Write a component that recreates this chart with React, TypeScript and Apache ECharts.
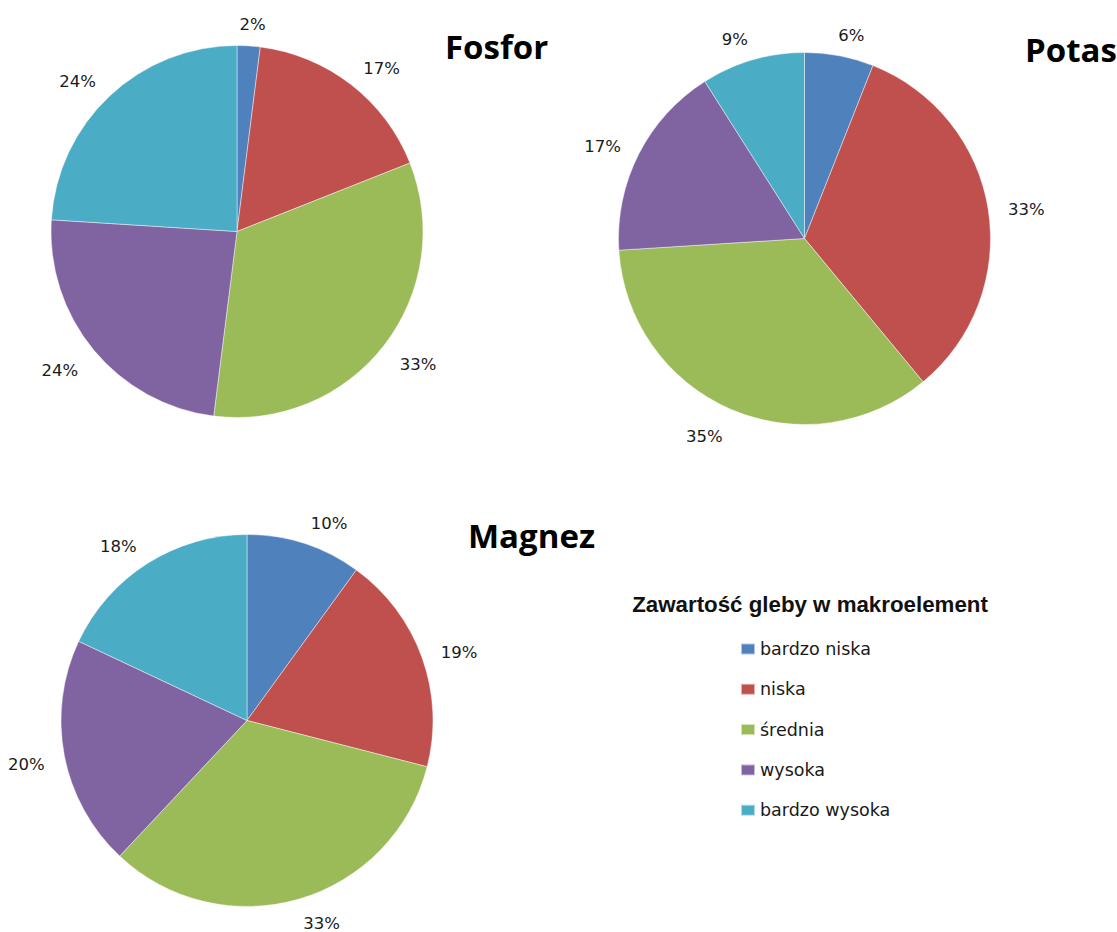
import React, { useEffect, useRef } from "react";
import * as echarts from "echarts";

// Soil macronutrient content classes
const categories = ["bardzo niska", "niska", "średnia", "wysoka", "bardzo wysoka"];

// Share of samples in each class (%)
const fosforValues = [2, 17, 33, 24, 24];
const potasValues = [6, 33, 35, 17, 9];
const magnezValues = [10, 19, 33, 20, 18];

const chartTitles = ["Fosfor", "Potas", "Magnez"];
const legendTitle = "Zawartość gleby w makroelement";

const palette = ["#4F81BD", "#C0504D", "#9BBB59", "#8064A2", "#4BACC6"];

const WIDTH = 1117;
const HEIGHT = 932;
const RADIUS = 186;
const LABEL_GAP = 20;
const LABEL_FONT = "DejaVu Sans";
const TITLE_FONT = "Open Sans";

const pies = [
  { title: chartTitles[0], values: fosforValues, cx: 237, cy: 231.5, tx: 445, ty: 46 },
  { title: chartTitles[1], values: potasValues, cx: 804.5, cy: 238.5, tx: 1025, ty: 49 },
  { title: chartTitles[2], values: magnezValues, cx: 247, cy: 720.5, tx: 468, ty: 535 },
];

// Places each percentage just outside the rim at the slice's mid-angle,
// pushed sideways away from the vertical axis like "outside end" labels.
function outsideEndLayout(values: number[], cx: number, cy: number) {
  const total = values.reduce((a, b) => a + b, 0);
  return (params: any) => {
    const i = params.dataIndex;
    let before = 0;
    for (let k = 0; k < i; k++) before += values[k];
    const mid = ((before + values[i] / 2) / total) * Math.PI * 2;
    const s = Math.sin(mid);
    const c = Math.cos(mid);
    const w = params.labelRect.width;
    const h = params.labelRect.height;
    const d = RADIUS + LABEL_GAP;
    const dx = Math.sign(s) * (w / 2) * Math.min(1, Math.abs(s) / 0.3);
    const dy = -c * h * 0.3 + 4;
    let y = cy - c * d + dy;
    y = Math.min(y, HEIGHT - h / 2 - 0.5);
    return { x: cx + s * d + dx, y, align: "center", verticalAlign: "middle" };
  };
}

export default function App() {
  const ref = useRef<HTMLDivElement>(null);

  useEffect(() => {
    if (!ref.current) return;
    const chart = echarts.init(ref.current, undefined, { renderer: "svg" });

    const series = pies.map((p) => ({
      type: "pie",
      name: p.title,
      center: [p.cx, p.cy],
      radius: RADIUS,
      startAngle: 90,
      clockwise: true,
      avoidLabelOverlap: false,
      silent: true,
      itemStyle: { borderColor: "rgba(255,255,255,0.55)", borderWidth: 0.8 },
      label: {
        show: true,
        position: "outside",
        formatter: "{c}%",
        fontFamily: LABEL_FONT,
        fontSize: 16.5,
        lineHeight: 14,
        color: "#1a1a1a",
      },
      labelLine: { show: false },
      labelLayout: outsideEndLayout(p.values, p.cx, p.cy),
      data: categories.map((name, i) => ({ name, value: p.values[i] })),
    }));

    const titleTexts = pies.map((p) => ({
      type: "text",
      x: p.tx,
      y: p.ty,
      style: {
        text: p.title,
        fontFamily: TITLE_FONT,
        fontWeight: "bold",
        fontSize: 33,
        fill: "#000",
        align: "left",
        verticalAlign: "middle",
      },
    }));

    chart.setOption({
      animation: false,
      backgroundColor: "#fff",
      color: palette,
      legend: {
        data: categories,
        orient: "vertical",
        left: 740,
        top: 639,
        padding: 0,
        icon: "rect",
        itemWidth: 14,
        itemHeight: 11,
        itemGap: 20.3,
        selectedMode: false,
        textStyle: {
          fontFamily: LABEL_FONT,
          fontSize: 17.5,
          lineHeight: 20,
          color: "#1a1a1a",
        },
      },
      graphic: [
        ...titleTexts,
        {
          type: "text",
          x: 810,
          y: 604,
          style: {
            text: legendTitle,
            fontFamily: "Liberation Sans",
            fontWeight: "bold",
            fontSize: 22.3,
            fill: "#111",
            align: "center",
            verticalAlign: "middle",
          },
        },
      ],
      series,
    });

    return () => chart.dispose();
  }, []);

  return (
    <div
      ref={ref}
      style={{ position: "absolute", left: 0, top: 0, width: WIDTH, height: HEIGHT }}
    />
  );
}
